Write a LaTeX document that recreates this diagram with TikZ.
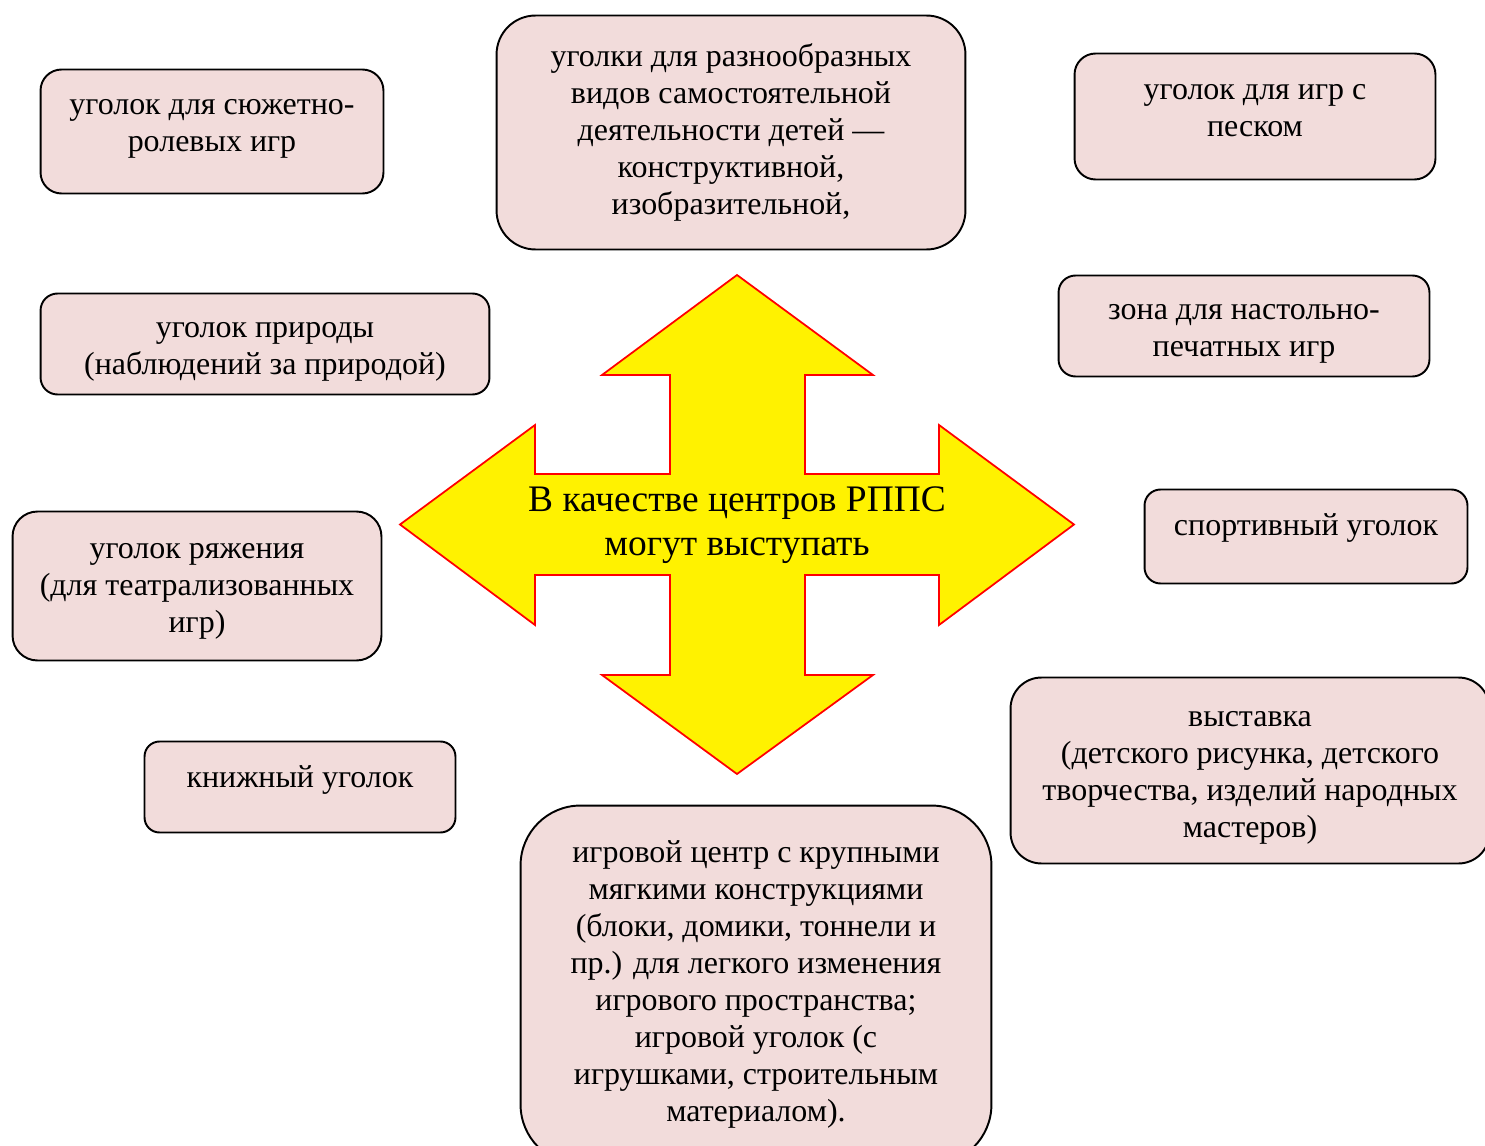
\documentclass[tikz,border=0pt]{standalone}
\usepackage{fontspec}
\setmainfont{Liberation Serif}
\usepackage{tikz}
\usetikzlibrary{positioning}
\definecolor{pinkbox}{HTML}{F2DCDB}
\begin{document}
\begin{tikzpicture}[x=0.02cm,y=-0.02cm,
  box/.style={draw=black,line width=1.1pt,fill=pinkbox,rounded corners=#1,inner sep=0pt},
  lbl/.style={inner sep=0pt,align=center,font=\fontsize{18.2pt}{21pt}\selectfont,
    execute at begin node=\strut},
  arrowshape/.style={draw=red,line width=1pt,fill=yellow,line join=miter},
  centretext/.style={align=center,inner sep=0pt,font=\fontsize{21.3pt}{25pt}\selectfont}]

    \useasboundingbox (0,0) rectangle (1485,1146);
    \clip (0,0) rectangle (1485,1146);

    \draw[arrowshape] (737,275) -- (873,375) -- (805,375) -- (805,474) -- (939,474)
      -- (939,425) -- (1074,524.5) -- (939,625) -- (939,575) -- (805,575) -- (805,675)
      -- (873,675) -- (737,774) -- (602,675) -- (670,675) -- (670,575) -- (535,575)
      -- (535,625) -- (400,524.5) -- (535,425) -- (535,474) -- (670,474) -- (670,375)
      -- (602,375) -- cycle;
    \node[centretext](centre) at (737,525) {В качестве центров РППС\\могут выступать};

    \node[box=.42cm,minimum width=6.86cm,minimum height=2.48cm](roles) at (212,131.5) {};
    \node[lbl,below=.62cm of roles.north](roles-txt){уголок для сюжетно-\\ролевых игр};

    \node[box=.78cm,minimum width=9.38cm,minimum height=4.68cm](kinds) at (731,132.5) {};
    \node[lbl,below=.58cm of kinds.north](kinds-txt){уголки для разнообразных\\видов самостоятельной\\деятельности детей —\\конструктивной,\\изобразительной,};

    \node[box=.42cm,minimum width=7.22cm,minimum height=2.52cm](sand) at (1255,116.5) {};
    \node[lbl,below=.64cm of sand.north](sand-txt){уголок для игр с\\песком};

    \node[box=.34cm,minimum width=8.98cm,minimum height=2.02cm](nature) at (265,344) {};
    \node[lbl,below=.6cm of nature.north](nature-txt){уголок природы\\(наблюдений за природой)};

    \node[box=.34cm,minimum width=7.42cm,minimum height=2.02cm](board) at (1244,326) {};
    \node[lbl,below=.6cm of board.north](board-txt){зона для настольно-\\печатных игр};

    \node[box=.5cm,minimum width=7.38cm,minimum height=2.98cm](dress) at (197,586) {};
    \node[lbl,below=.66cm of dress.north](dress-txt){уголок ряжения\\(для театрализованных\\игр)};

    \node[box=.32cm,minimum width=6.46cm,minimum height=1.88cm](sport) at (1306,536.5) {};
    \node[lbl,below=.42cm of sport.north](sport-txt){спортивный уголок};

    \node[box=.3cm,minimum width=6.22cm,minimum height=1.82cm](books) at (300,787) {};
    \node[lbl,below=.42cm of books.north](books-txt){книжный уголок};

    \node[box=.62cm,minimum width=9.58cm,minimum height=3.72cm](exhib) at (1250,770.5) {};
    \node[lbl,below=.7cm of exhib.north](exhib-txt){выставка\\(детского рисунка, детского\\творчества, изделий народных\\мастеров)};

    \node[box=1.2cm,minimum width=9.42cm,minimum height=7.18cm](play) at (756,985) {};
    \node[lbl,below=.72cm of play.north](play-txt){игровой центр с крупными\\мягкими конструкциями\\(блоки, домики, тоннели и\\пр.) для легкого изменения\\игрового пространства;\\игровой уголок (с\\игрушками, строительным\\материалом).};
\end{tikzpicture}
\end{document}
